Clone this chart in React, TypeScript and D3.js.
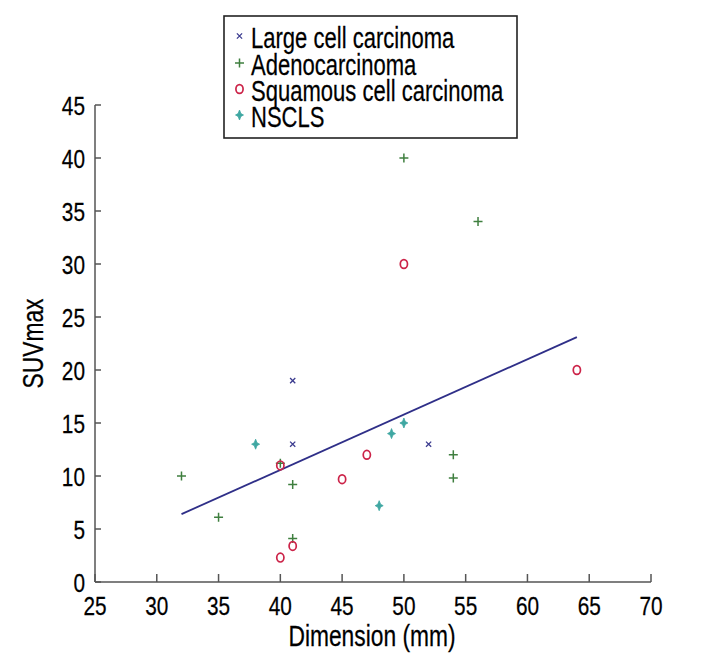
import React from "react";
import * as d3 from "d3";

const largeX = [41, 41, 52];
const largeY = [19, 13, 13];
const adenoX = [32, 35, 40, 41, 41, 50, 54, 54, 56];
const adenoY = [10, 6.1, 11.2, 9.2, 4.1, 40, 12, 9.8, 34];
const squamX = [40, 40, 41, 45, 47, 50, 64];
const squamY = [11, 2.3, 3.4, 9.7, 12, 30, 20];
const nsclsX = [38, 48, 49, 50];
const nsclsY = [13, 7.2, 14, 15];
const fitX = [32, 64];
const fitSlope = 0.522;
const fitIntercept = -10.3;
const xTicks = [25, 30, 35, 40, 45, 50, 55, 60, 65, 70];
const yTicks = [0, 5, 10, 15, 20, 25, 30, 35, 40, 45];
const legendLabels = ["Large cell carcinoma", "Adenocarcinoma", "Squamous cell carcinoma", "NSCLS"];

const C_LARGE = "#3b3b8f";
const C_ADENO = "#3f7f3f";
const C_SQUAM = "#cc2449";
const C_NSCLS = "#3fa7a2";
const C_LINE = "#2f2f88";
const C_AXIS = "#555";
const FONT = "'Liberation Sans', Arial, sans-serif";

const W = 720, H = 672;
const x = d3.scaleLinear().domain([25, 70]).range([95, 651]);
const y = d3.scaleLinear().domain([0, 45]).range([582, 105]);

function T({ x: tx, y: ty, size, anchor = "start", sx = 0.76, rot = 0, children }: any) {
  return (
    <text
      transform={`translate(${tx},${ty}) rotate(${rot}) scale(${sx},1)`}
      textAnchor={anchor}
      fontFamily={FONT}
      fontSize={size}
      fill="#000"
      stroke="#000"
      strokeWidth={0.25}
    >
      {children}
    </text>
  );
}

function Cross({ cx, cy }: { cx: number; cy: number }) {
  const s = 2.6;
  return <path d={`M${cx - s},${cy - s}L${cx + s},${cy + s}M${cx - s},${cy + s}L${cx + s},${cy - s}`} stroke={C_LARGE} strokeWidth={1.3} fill="none" />;
}
function Plus({ cx, cy }: { cx: number; cy: number }) {
  const s = 4.5;
  return <path d={`M${cx - s},${cy}L${cx + s},${cy}M${cx},${cy - s}L${cx},${cy + s}`} stroke={C_ADENO} strokeWidth={1.5} fill="none" />;
}
function Ring({ cx, cy }: { cx: number; cy: number }) {
  return <ellipse cx={cx} cy={cy} rx={3.6} ry={4.4} stroke={C_SQUAM} strokeWidth={1.7} fill="none" />;
}
function Star({ cx, cy }: { cx: number; cy: number }) {
  const a = 4, b = 5, c = 1.4;
  const d = `M${cx},${cy - b}L${cx + c},${cy - c}L${cx + a},${cy}L${cx + c},${cy + c}L${cx},${cy + b}L${cx - c},${cy + c}L${cx - a},${cy}L${cx - c},${cy - c}Z`;
  return <path d={d} fill={C_NSCLS} stroke={C_NSCLS} strokeWidth={0.8} />;
}

export default function App() {
  const fitLine = d3.line<number>().x((v) => x(v)).y((v) => y(fitSlope * v + fitIntercept));
  const legendY = [36, 63, 89, 115];
  const markers = [Cross, Plus, Ring, Star];
  return (
    <svg width={W} height={H} style={{ display: "block", position: "absolute", left: 0, top: 0, background: "#fff" }}>
      <rect width={W} height={H} fill="#fff" />
      <line x1={x(25)} x2={x(70)} y1={y(0)} y2={y(0)} stroke={C_AXIS} strokeWidth={1.5} />
      <line x1={x(25)} x2={x(25)} y1={y(0)} y2={y(45)} stroke={C_AXIS} strokeWidth={1.5} />
      {xTicks.map((t) => (
        <g key={"xt" + t}>
          <line x1={x(t)} x2={x(t)} y1={y(0)} y2={y(0) - 8} stroke={C_AXIS} strokeWidth={1.5} />
          <T x={x(t)} y={615} size={26} anchor="middle" sx={0.8}>{t}</T>
        </g>
      ))}
      {yTicks.map((t) => (
        <g key={"yt" + t}>
          <line x1={x(25)} x2={x(25) + 6} y1={y(t)} y2={y(t)} stroke={C_AXIS} strokeWidth={1.5} />
          <T x={85} y={y(t) + 9.5} size={26} anchor="end" sx={0.8}>{t}</T>
        </g>
      ))}
      <T x={372} y={646} size={30}>{""}</T>
      <T x={372} y={646} size={30} anchor="middle">Dimension (mm)</T>
      <T x={43} y={(y(0) + y(45)) / 2} size={30} anchor="middle" rot={-90}>SUVmax</T>
      <path d={fitLine(fitX) || ""} stroke={C_LINE} strokeWidth={1.8} fill="none" />
      {largeX.map((v, i) => <Cross key={"l" + i} cx={x(v)} cy={y(largeY[i])} />)}
      {adenoX.map((v, i) => <Plus key={"a" + i} cx={x(v)} cy={y(adenoY[i])} />)}
      {squamX.map((v, i) => <Ring key={"s" + i} cx={x(v)} cy={y(squamY[i])} />)}
      {nsclsX.map((v, i) => <Star key={"n" + i} cx={x(v)} cy={y(nsclsY[i])} />)}
      <rect x={224} y={16} width={293} height={122} fill="#fff" stroke="#222" strokeWidth={1.6} />
      {legendLabels.map((lab, i) => {
        const M = markers[i];
        return (
          <g key={lab}>
            <M cx={239.5} cy={legendY[i]} />
            <T x={251} y={legendY[i] + 12} size={29}>{lab}</T>
          </g>
        );
      })}
    </svg>
  );
}
